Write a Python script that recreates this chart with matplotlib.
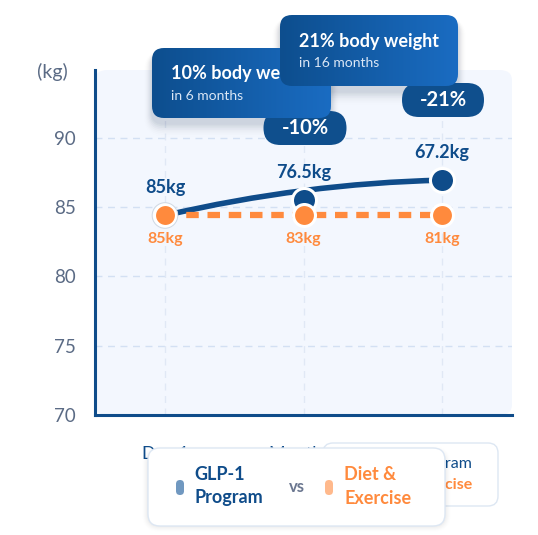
import numpy as np
import matplotlib.pyplot as plt
from matplotlib.patches import FancyBboxPatch, PathPatch, Rectangle
from matplotlib.path import Path
from matplotlib.colors import LinearSegmentedColormap

plt.rcParams['font.family'] = ['Lato', 'DejaVu Sans']

# data
stages = ["Day 1", "Month 6", "Month 16"]
glp_dots = [84.4, 85.5, 86.95]
glp_curve = [84.4, 86.2, 86.95]
diet_dots = [84.4, 84.4, 84.4]
glp_labels = ["85kg", "76.5kg", "67.2kg"]
diet_labels = ["85kg", "83kg", "81kg"]
y_ticks = [70, 75, 80, 85, 90]

BLUE = "#0f4c8a"
ORANGE = "#ff8a3d"
GREY = "#5b6b85"
BG = "#f3f7fe"

W, H = 538, 535
fig = plt.figure(figsize=(W / 100, H / 100), dpi=100)
fig.patch.set_facecolor("white")

ax = fig.add_axes([95 / W, 1 - 415 / H, (512 - 95) / W, (415 - 70) / H])
ax.set_facecolor("none")
ax.set_xlim(-0.505, 2.505)
ax.set_ylim(70, 94.9)
x = np.arange(len(stages))

bg = FancyBboxPatch((0, 0), 1, 1, boxstyle="round,pad=0,rounding_size=0.03",
                    transform=ax.transAxes, facecolor=BG, edgecolor="none", zorder=0)
ax.add_patch(bg)

for t in y_ticks[1:]:
    ax.axhline(t, color="#d3e0f3", lw=1, ls=(0, (5, 4)), zorder=1)
for xi in x:
    ax.axvline(xi, color="#e0e8f5", lw=1, ls=(0, (5, 4)), zorder=1)

for s in ["top", "right"]:
    ax.spines[s].set_visible(False)
for s in ["left", "bottom"]:
    ax.spines[s].set_color(BLUE)
    ax.spines[s].set_linewidth(2.2)
    ax.spines[s].set_zorder(6)

ax.set_yticks(y_ticks)
ax.set_yticklabels([str(t) for t in y_ticks], fontsize=13.5, color=GREY)
ax.set_xticks(x)
ax.set_xticklabels(stages, fontsize=13, color=BLUE)
ax.tick_params(axis="y", length=0, pad=14)
ax.tick_params(axis="x", length=0, pad=22)

# glp-1 smooth line (quadratic curve through the middle reading)
ctrl = 2 * glp_curve[1] - (glp_curve[0] + glp_curve[2]) / 2
path = Path([(x[0], glp_curve[0]), (x[1], ctrl), (x[2], glp_curve[2])],
            [Path.MOVETO, Path.CURVE3, Path.CURVE3])
ax.add_patch(PathPatch(path, facecolor="none", edgecolor=BLUE, lw=4,
                       capstyle="round", zorder=3))
ax.plot(x, diet_dots, color=ORANGE, lw=4.5, ls=(0, (2, 1.4)), zorder=3,
        solid_capstyle="butt")
ax.scatter(x[1:], glp_dots[1:], s=300, color=BLUE, edgecolor="white",
           linewidth=2.2, zorder=4)
ax.scatter(x, diet_dots, s=250, color=ORANGE, edgecolor="white",
           linewidth=2.2, zorder=5)
ax.scatter(x[:1], diet_dots[:1], s=340, facecolor="none", edgecolor="#cfd8e3",
           linewidth=0.7, zorder=5)

for xi, v, lab in zip(x, glp_dots, glp_labels):
    ax.annotate(lab, (xi, v), xytext=(0, 20), textcoords="offset points",
                ha="center", va="center", fontsize=13, fontweight="bold",
                color=BLUE, zorder=6)
for xi, v, lab in zip(x, diet_dots, diet_labels):
    ax.annotate(lab, (xi, v), xytext=(0, -17), textcoords="offset points",
                ha="center", va="center", fontsize=11.5, fontweight="bold",
                color=ORANGE, zorder=6)

# overlay in pixel coordinates for callouts and legend
ov = fig.add_axes([0, 0, 1, 1], zorder=10)
ov.set_facecolor("none")
ov.axis("off")

# y axis title, cut by the card edge as in the reference
ylab = ov.text(68, 72, "Weight (kg)", ha="right", va="center", fontsize=14, color=GREY)
clip = Rectangle((32, 0), W, H, transform=ov.transData, facecolor="none", edgecolor="none")
ov.add_patch(clip)
ylab.set_clip_on(True)
ylab.set_clip_path(clip)

cmap = LinearSegmentedColormap.from_list("cb", ["#0d4e8e", "#1a6cc2"])


def shadow(x0, y0, w, h, r, strength=0.035, spread=8, dy=5):
    for i in range(spread):
        g = i + 1
        ov.add_patch(FancyBboxPatch((x0 - g, y0 + dy - g * 0.3), w + 2 * g, h + 2 * g,
                                    boxstyle=f"round,pad=0,rounding_size={r + g}",
                                    facecolor="#0a1e3c", edgecolor="none",
                                    alpha=strength * (1 - i / spread), zorder=1))


def pill(cx, cy, w, h, txt):
    ov.add_patch(FancyBboxPatch((cx - w / 2, cy - h / 2), w, h,
                                boxstyle=f"round,pad=0,rounding_size={h / 2}",
                                facecolor="#0f4f8d", edgecolor="none", zorder=2))
    ov.text(cx, cy, txt, ha="center", va="center", fontsize=14.5,
            fontweight="bold", color="white", zorder=3)


def callout(x0, y0, w, h, title, sub, z):
    shadow(x0, y0, w, h, 12)
    box = FancyBboxPatch((x0, y0), w, h, boxstyle="round,pad=0,rounding_size=12",
                         facecolor="none", edgecolor="none", zorder=z)
    ov.add_patch(box)
    im = ov.imshow(np.linspace(0, 1, 256).reshape(1, -1), cmap=cmap, aspect="auto",
                   extent=(x0, x0 + w, y0 + h, y0), zorder=z, interpolation="bilinear")
    im.set_clip_path(box)
    ov.text(x0 + 19, y0 + 26, title, ha="left", va="center", fontsize=13,
            fontweight="bold", color="white", zorder=z + 0.5, clip_on=False)
    ov.text(x0 + 19, y0 + 48, sub, ha="left", va="center", fontsize=10,
            color="#dbe7f6", zorder=z + 0.5)


pill(305, 128, 83, 34, "-10%")
pill(443, 100, 82, 34, "-21%")
callout(152, 48, 179, 70, "10% body weight", "in 6 months", 4)
callout(280, 15, 178, 71, "21% body weight", "in 16 months", 6)

# legend boxes
ov.add_patch(FancyBboxPatch((323, 443), 175, 63, boxstyle="round,pad=0,rounding_size=10",
                            facecolor="white", edgecolor="#dde7f3", lw=1, zorder=7))
ov.text(472, 464, "GLP-1 Program", ha="right", va="center", fontsize=11.5,
        color=BLUE, zorder=7.5)
ov.text(472, 485, "Diet & Exercise", ha="right", va="center", fontsize=11.5,
        fontweight="bold", color=ORANGE, zorder=7.5)

for i in range(6):
    g = i + 1
    ov.add_patch(FancyBboxPatch((148 - g, 452 - g), 297 + 2 * g, 74 + 2 * g,
                                boxstyle=f"round,pad=0,rounding_size={12 + g}",
                                facecolor="#0a1e3c", edgecolor="none",
                                alpha=0.02 * (1 - i / 6), zorder=7.6))
ov.add_patch(FancyBboxPatch((148, 448), 297, 78, boxstyle="round,pad=0,rounding_size=12",
                            facecolor="white", edgecolor="#dde7f3", lw=1, zorder=8))
ov.add_patch(FancyBboxPatch((176, 480), 8, 15, boxstyle="round,pad=0,rounding_size=4",
                            facecolor="#7098c0", edgecolor="none", zorder=9))
ov.add_patch(FancyBboxPatch((325, 480), 8, 15, boxstyle="round,pad=0,rounding_size=4",
                            facecolor="#ffb98c", edgecolor="none", zorder=9))
ov.text(194, 475, "GLP-1", ha="left", va="center", fontsize=13, fontweight="bold",
        color=BLUE, zorder=9)
ov.text(194, 498, "Program", ha="left", va="center", fontsize=13, fontweight="bold",
        color=BLUE, zorder=9)
ov.text(297, 487, "vs", ha="center", va="center", fontsize=12, fontweight="bold",
        color="#6b7790", zorder=9)
ov.text(344, 475, "Diet &", ha="left", va="center", fontsize=13, fontweight="bold",
        color=ORANGE, zorder=9)
ov.text(344, 498, "Exercise", ha="left", va="center", fontsize=13, fontweight="bold",
        color=ORANGE, zorder=9)

ov.set_xlim(0, W)
ov.set_ylim(H, 0)

fig.savefig("out.png", dpi=100)
